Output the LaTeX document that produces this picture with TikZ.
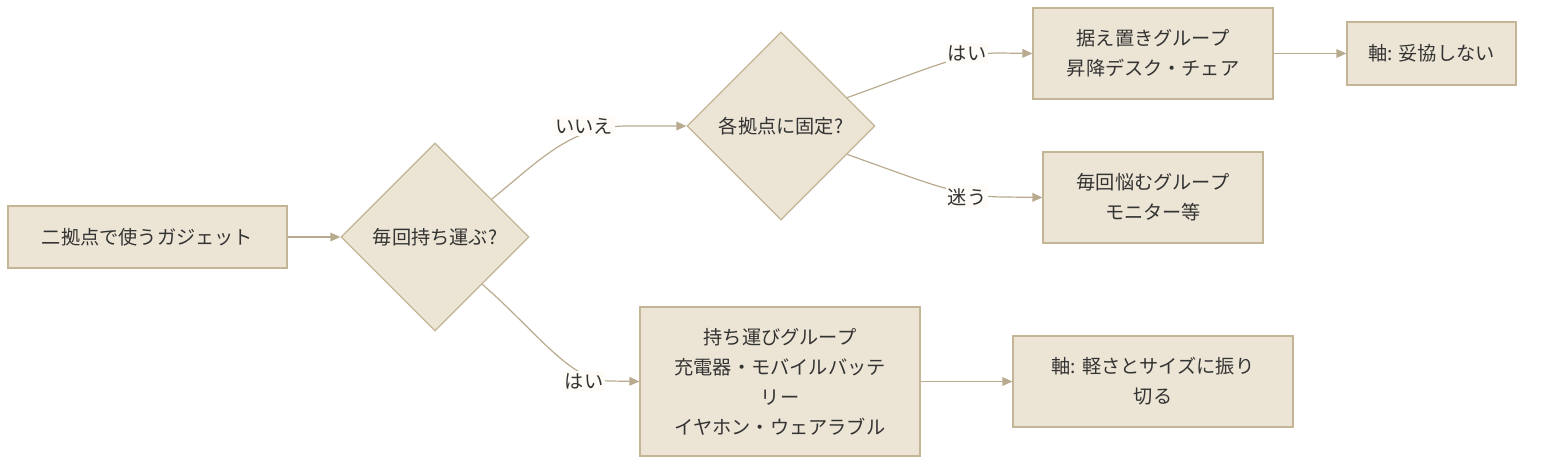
\documentclass[tikz,border=0pt]{standalone}
\usepackage{fontspec}
\newfontfamily\jp{Noto Sans CJK JP}
\usetikzlibrary{shapes.geometric,arrows.meta,calc}
\definecolor{boxfill}{HTML}{ECE5D5}
\definecolor{boxline}{HTML}{C4B597}
\definecolor{edgecol}{HTML}{B8AA8E}
\definecolor{txt}{HTML}{333333}
\definecolor{lblbg}{HTML}{FFFBF7}
\begin{document}
\begin{tikzpicture}[x=0.75pt,y=-0.75pt,
  every node/.style={font={\jp\fontsize{14.4}{22.5}\selectfont},text=txt},
  box/.style={rectangle,draw=boxline,fill=boxfill,line width=0.9pt,align=center,inner sep=0pt},
  dia/.style={diamond,draw=boxline,fill=boxfill,line width=0.9pt,align=center,inner sep=0pt,minimum width=141pt,minimum height=141pt},
  edge/.style={draw=edgecol,line width=0.9pt,-{Triangle[length=7.5pt,width=6.5pt]}},
  lbl/.style={fill=lblbg,inner sep=1.5pt}]
\useasboundingbox (0,0) rectangle (1568,470);
\node[box,minimum width=209.25pt,minimum height=46.5pt] (A) at (147.5,237) {二拠点で使うガジェット};
\node[dia] (B) at (435,237) {毎回持ち運ぶ?};
\node[dia] (C) at (781,126) {各拠点に固定?};
\node[box,minimum width=180pt,minimum height=68.25pt] (D) at (1153,53.5) {据え置きグループ\\昇降デスク・チェア};
\node[box,minimum width=126.75pt,minimum height=47.25pt] (E) at (1431.5,53.5) {軸: 妥協しない};
\node[box,minimum width=165pt,minimum height=68.25pt] (F) at (1153,197.5) {毎回悩むグループ\\モニター等};
\node[box,minimum width=210pt,minimum height=111.75pt] (G) at (780,381.5) {持ち運びグループ\\充電器・モバイルバッテ\\リー\\イヤホン・ウェアラブル};
\node[box,minimum width=210pt,minimum height=68.25pt] (H) at (1153,381.5) {軸: 軽さとサイズに振り\\切る};
% edges
\draw[edge] (A.east) -- (B.west);
\draw[edge] ($(B.north)!0.6!(B.east)$) .. controls (540,160) and (570,127) .. (625,126) -- (C.west);
\draw[edge] ($(C.north)!0.7!(C.east)$) .. controls (930,68) and (960,53) .. (1000,53) -- (D.west);
\draw[edge] ($(C.east)!0.3!(C.south)$) .. controls (930,184) and (960,197) .. (1005,197) -- (F.west);
\draw[edge] ($(B.east)!0.5!(B.south)$) .. controls (540,335) and (570,381) .. (610,381) -- (G.west);
\draw[edge] (D.east) -- (E.west);
\draw[edge] (G.east) -- (H.west);
% labels
\node[lbl] (l1) at (584,126) {いいえ};
\node[lbl] (l2) at (967,53) {はい};
\node[lbl] (l3) at (967,197) {迷う};
\node[lbl] (l4) at (584,381) {はい};
\end{tikzpicture}
\end{document}
